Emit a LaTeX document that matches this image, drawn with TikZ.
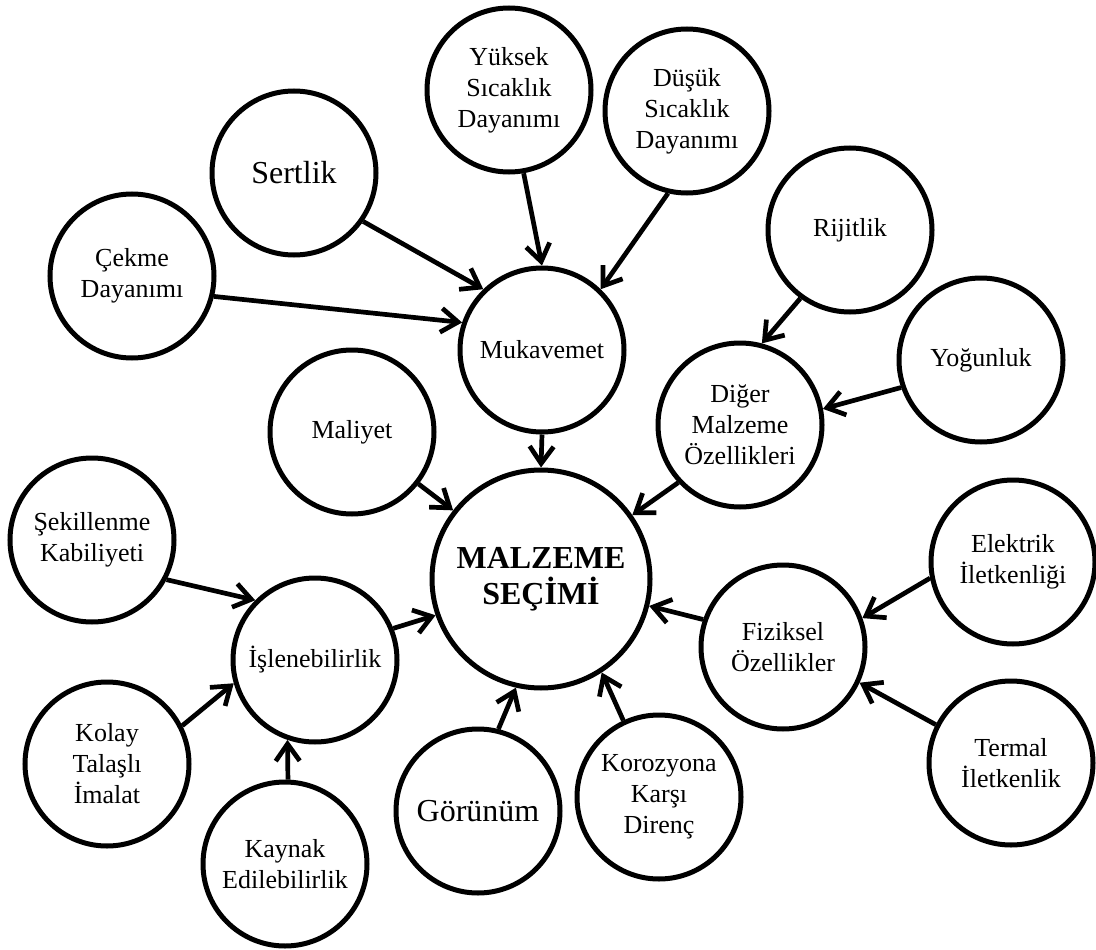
\documentclass[tikz,border=0pt]{standalone}
\usepackage{fontspec}
\setmainfont{Liberation Serif}
\usetikzlibrary{arrows.meta}
\begin{document}
\begin{tikzpicture}[x=1pt,y=-1pt,
  bub/.style={circle, draw, line width=5pt, minimum size=164pt, inner sep=0pt, align=center, font=\fontsize{26}{31}\selectfont},
  big/.style={font=\fontsize{32}{36}\selectfont},
  mainbub/.style={minimum size=218pt, font=\fontsize{32}{36}\selectfont\bfseries},
  arr/.style={line width=4.7pt, -{Straight Barb[length=17pt,width=24pt]}}]
\useasboundingbox (0,0) rectangle (1096,950);
\node[bub] (yuk) at (509,90) {Yüksek\\Sıcaklık\\Dayanımı};
\node[bub] (dus) at (687,111) {Düşük\\Sıcaklık\\Dayanımı};
\node[bub,big] (ser) at (294,173) {Sertlik};
\node[bub] (cek) at (132,276) {Çekme\\Dayanımı};
\node[bub] (muk) at (542,350) {Mukavemet};
\node[bub] (rij) at (850,230) {Rijitlik};
\node[bub] (yog) at (981,360) {Yoğunluk};
\node[bub] (dig) at (740,425) {Diğer\\Malzeme\\Özellikleri};
\node[bub] (mal) at (352,432) {Maliyet};
\node[bub,mainbub] (ms) at (541,579) {MALZEME\\SEÇİMİ};
\node[bub] (sek) at (92,540) {Şekillenme\\Kabiliyeti};
\node[bub] (isl) at (315,660) {İşlenebilirlik};
\node[bub] (kol) at (107,764) {Kolay\\Talaşlı\\İmalat};
\node[bub] (kay) at (285,864) {Kaynak\\Edilebilirlik};
\node[bub,big] (gor) at (478,811) {Görünüm};
\node[bub] (kor) at (659,797) {Korozyona\\Karşı\\Direnç};
\node[bub] (fiz) at (783,647) {Fiziksel\\Özellikler};
\node[bub] (ele) at (1013,562) {Elektrik\\İletkenliği};
\node[bub] (ter) at (1011,763) {Termal\\İletkenlik};
\draw[arr] (yuk.-80) -- (muk.90);
\draw[arr] (dus.-103) -- (muk.46);
\draw[arr] (ser.-35) -- (muk.134);
\draw[arr] (cek.-14.5) -- (muk.161);
\draw[arr] (muk.-90) -- (ms.90);
\draw[arr] (mal.-38) -- (ms.142);
\draw[arr] (rij.-126) -- (dig.75);
\draw[arr] (yog.-161) -- (dig.11);
\draw[arr] (dig.-137) -- (ms.35);
\draw[arr] (sek.-28) -- (isl.135);
\draw[arr] (kol.27.5) -- (isl.-164.5);
\draw[arr] (kay.88) -- (isl.-109);
\draw[arr] (isl.22) -- (ms.-161);
\draw[arr] (gor.76) -- (ms.-103.5);
\draw[arr] (kor.115) -- (ms.-57.7);
\draw[arr] (fiz.161) -- (ms.-14.7);
\draw[arr] (ele.-169) -- (fiz.20);
\draw[arr] (ter.153) -- (fiz.-25.6);
\end{tikzpicture}
\end{document}
